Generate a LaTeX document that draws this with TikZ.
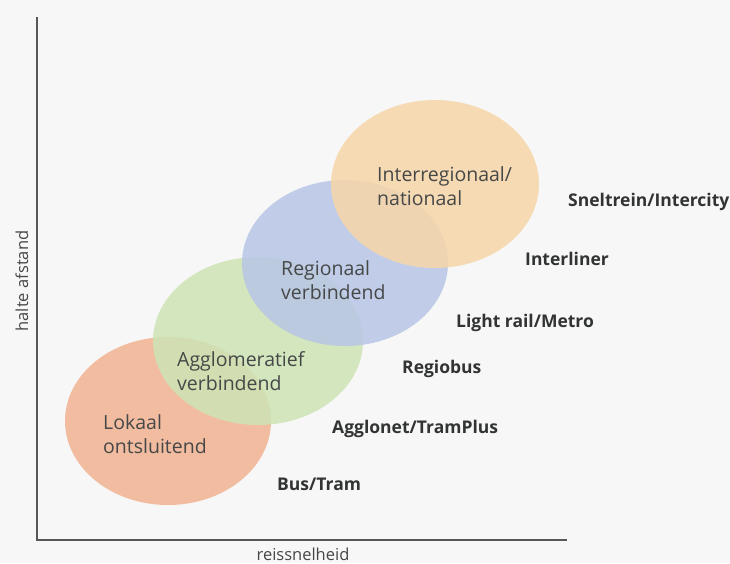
\documentclass[tikz,border=0pt]{standalone}
\usepackage{fontspec}
\setmainfont{Open Sans}
\usetikzlibrary{shapes.geometric}
\definecolor{bg}{RGB}{246,247,246}
\definecolor{cOrange}{RGB}{242,178,145}
\definecolor{cGreen}{RGB}{205,228,180}
\definecolor{cBlue}{RGB}{184,198,230}
\definecolor{cYellow}{RGB}{246,214,168}
\definecolor{txt}{RGB}{70,72,72}
\definecolor{btxt}{RGB}{50,52,52}
\definecolor{axis}{RGB}{85,88,88}
\tikzset{
  blob/.style={ellipse, draw=none, inner sep=0pt, fill opacity=0.85},
  zone/.style={anchor=base west, inner sep=0pt, text=txt, font=\fontsize{19.5}{24}\selectfont},
  mode/.style={anchor=base west, inner sep=0pt, text=btxt, font=\fontsize{17.5}{21}\selectfont\bfseries},
  axlabel/.style={inner sep=0pt, text=txt, font=\fontsize{16.5}{20}\selectfont},
  axisline/.style={draw=axis, line width=1.2pt}
}
\begin{document}
\begin{tikzpicture}[x=1pt,y=-1pt]
\fill[bg] (0,0) rectangle (730,563);
\useasboundingbox (0,0) rectangle (730,563);
% axes
\coordinate (o) at (37,540);
\coordinate (ytop) at (37,17);
\coordinate (xend) at (567,540);
\draw[axisline] (ytop) -- (o) -- (xend);
% ellipses
\node[blob, fill=cOrange, minimum width=206pt, minimum height=168pt] (lok) at (168,421) {};
\node[blob, fill=cGreen, minimum width=210pt, minimum height=168pt] (agg) at (258,341) {};
\node[blob, fill=cBlue, minimum width=206pt, minimum height=166pt] (reg) at (345,263) {};
\node[blob, fill=cYellow, minimum width=208pt, minimum height=168pt] (int) at (435,184) {};
% zone labels
\node[zone] (tlok) at (103,429) {\begin{tabular}[t]{@{}l@{}}Lokaal\\ontsluitend\end{tabular}};
\node[zone] (tagg) at (177,366) {\begin{tabular}[t]{@{}l@{}}Agglomeratief\\verbindend\end{tabular}};
\node[zone] (treg) at (281,275) {\begin{tabular}[t]{@{}l@{}}Regionaal\\verbindend\end{tabular}};
\node[zone] (tint) at (377,181) {\begin{tabular}[t]{@{}l@{}}Interregionaal/\\nationaal\end{tabular}};
% modes
\node[mode] (m1) at (277,490) {Bus/Tram};
\node[mode] (m2) at (332,433) {Agglonet/TramPlus};
\node[mode] (m3) at (402,373) {Regiobus};
\node[mode] (m4) at (456,327) {Light rail/Metro};
\node[mode] (m5) at (525,265) {Interliner};
\node[mode] (m6) at (568,206) {Sneltrein/Intercity};
% axis labels
\node[axlabel, anchor=base] (xl) at (303,560) {reissnelheid};
\node[axlabel, anchor=base, rotate=90] (yl) at (28,281) {halte afstand};
\end{tikzpicture}
\end{document}
